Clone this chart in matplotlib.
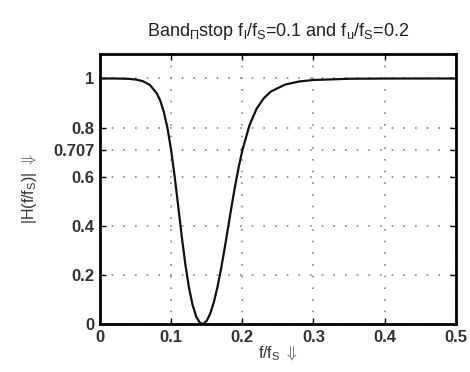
import matplotlib.pyplot as plt

# normalised frequency f/fS and magnitude |H(f/fS)|
freq = [0.0, 0.02, 0.04, 0.05, 0.06, 0.07, 0.08, 0.085, 0.09, 0.095,
        0.1, 0.105, 0.11, 0.115, 0.12, 0.125, 0.13, 0.135, 0.14, 0.144,
        0.145, 0.15, 0.155, 0.16, 0.165, 0.17, 0.175, 0.18, 0.185, 0.19,
        0.195, 0.2, 0.21, 0.22, 0.23, 0.24, 0.26, 0.28, 0.3, 0.35,
        0.4, 0.45, 0.5]
mag = [1.0, 1.0, 0.9986, 0.9959, 0.9893, 0.974, 0.9387, 0.9069, 0.8599, 0.7949,
       0.7071, 0.5985, 0.4766, 0.3534, 0.2414, 0.1486, 0.0786, 0.0315, 0.006, 0.0,
       0.0004, 0.0132, 0.0433, 0.0894, 0.1502, 0.2233, 0.3057, 0.3932, 0.4811, 0.5647,
       0.6408, 0.7071, 0.8092, 0.8765, 0.9193, 0.9465, 0.9752, 0.9879, 0.9939, 0.9989,
       0.9998, 1.0, 1.0]

xticks = [0, 0.1, 0.2, 0.3, 0.4, 0.5]
xtick_labels = ['0', '0.1', '0.2', '0.3', '0.4', '0.5']
yticks = [0, 0.2, 0.4, 0.6, 0.707, 0.8, 1]
ytick_labels = ['0', '0.2', '0.4', '0.6', '0.707', '0.8', '1']

plt.rcParams['font.family'] = ['Liberation Sans', 'DejaVu Sans']
plt.rcParams['mathtext.fontset'] = 'custom'
plt.rcParams['mathtext.rm'] = 'Liberation Sans'
plt.rcParams['mathtext.it'] = 'Liberation Sans'

fig = plt.figure(figsize=(4.7, 3.72), dpi=100)
ax = fig.add_axes([0.2128, 0.129, 0.757, 0.726])

ax.plot(freq, mag, color='#111111', linewidth=1.6)

ax.set_xlim(0, 0.5)
ax.set_ylim(0, 1.1)
ax.set_xticks(xticks)
ax.set_xticklabels(xtick_labels)
ax.set_yticks(yticks)
ax.set_yticklabels(ytick_labels)
ax.tick_params(direction='in', length=4, width=1, labelsize=12,
               labelcolor='#333333', top=True, right=True, pad=4)
for lab in ax.get_xticklabels() + ax.get_yticklabels():
    lab.set_fontweight('bold')
ax.grid(True, linestyle=(0, (1, 6)), color='#888888', linewidth=1.2)
for s in ax.spines.values():
    s.set_linewidth(2)

ax.set_title(r'Band$_\Pi$stop f$_l$/f$_S$=0.1 and f$_u$/f$_S$=0.2',
             fontsize=13, pad=13, color='#222222')
ax.set_xlabel(r'f/f$_S$ $\Downarrow$', fontsize=11.5, labelpad=0, color='#333333')
ax.set_ylabel(r'|H(f/f$_S$)| $\Downarrow$', fontsize=11.5, labelpad=10, color='#333333')

fig.savefig('out.png', dpi=100)
